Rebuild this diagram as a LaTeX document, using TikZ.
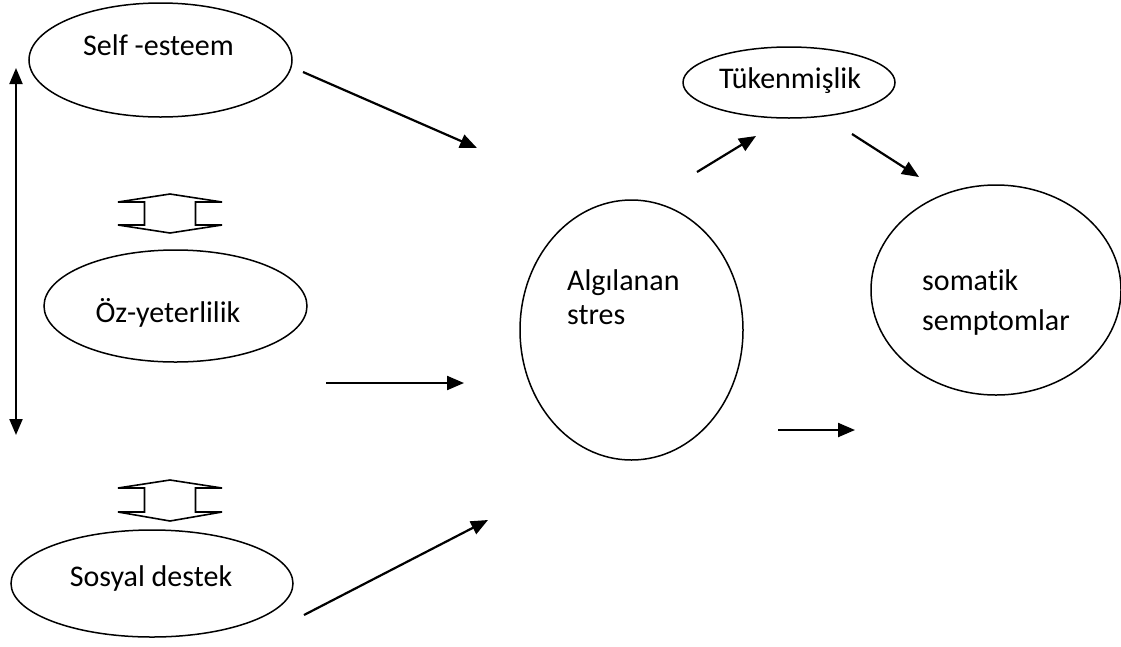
\documentclass[tikz,border=0pt]{standalone}
\usepackage{fontspec}
\setmainfont{Carlito}[Ligatures=NoCommon]
\usetikzlibrary{arrows.meta,shapes.geometric}
\begin{document}
\begin{tikzpicture}[x=1pt,y=-1pt,
  oval/.style={draw,ellipse,line width=1.5pt,inner sep=0pt},
  lbl/.style={font=\fontsize{30}{36}\selectfont,inner sep=0pt},
  conn/.style={line width=2.2pt,-{Triangle[length=17pt,width=14pt]}},
  hollow/.style={draw,line width=1.6pt,line join=miter}]
\useasboundingbox (0,0) rectangle (1121,646);
% ellipses
\node[oval,minimum width=263pt,minimum height=114pt] (self) at (160.5,60) {};
\node[oval,minimum width=263pt,minimum height=112pt] (oz) at (175.5,306) {};
\node[oval,minimum width=282pt,minimum height=107pt] (sos) at (152,583.5) {};
\node[oval,minimum width=212pt,minimum height=71pt] (tuk) at (789,82.5) {};
\node[oval,minimum width=223pt,minimum height=260pt] (alg) at (631.5,330) {};
\node[oval,minimum width=250pt,minimum height=210pt] (som) at (996,290) {};
% labels
\node[lbl,anchor=base west] (tself) at (83,55) {Self -esteem};
\node[lbl,anchor=base] (toz) at (168,322) {Öz-yeterlilik};
\node[lbl,anchor=base] (tsos) at (151,586) {Sosyal destek};
\node[lbl,anchor=base] (ttuk) at (790,88) {Tükenmişlik};
\node[lbl,anchor=base west] (talg1) at (567,290) {Algılanan};
\node[lbl,anchor=base west] (talg2) at (567,324) {stres};
\node[lbl,anchor=base west] (tsom1) at (922,290) {somatik};
\node[lbl,anchor=base west] (tsom2) at (922,330) {semptomlar};
% arrow end points
\coordinate (a1s) at (303,72);  \coordinate (a1e) at (477,148);
\coordinate (a2s) at (326,383); \coordinate (a2e) at (464,383);
\coordinate (a3s) at (304,615); \coordinate (a3e) at (488,520);
\coordinate (a4s) at (697,172); \coordinate (a4e) at (756,136);
\coordinate (a5s) at (852,134); \coordinate (a5e) at (919,177);
\coordinate (a6s) at (778,430); \coordinate (a6e) at (855,430);
\coordinate (vtop) at (16,68);  \coordinate (vbot) at (16,435);
\draw[conn] (a1s) -- (a1e);
\draw[conn] (a2s) -- (a2e);
\draw[conn] (a3s) -- (a3e);
\draw[conn] (a4s) -- (a4e);
\draw[conn] (a5s) -- (a5e);
\draw[conn] (a6s) -- (a6e);
\draw[line width=2pt,{Triangle[length=16pt,width=13pt]}-{Triangle[length=16pt,width=13pt]}] (vtop) -- (vbot);
% hollow up-down arrows
\coordinate (h1) at (170,213.5);
\coordinate (h2) at (170,500.5);
\draw[hollow,shift={(h1)}] (0,-19.5) -- (52,-11.5) -- (25.5,-11.5) -- (25.5,11.5) -- (52,11.5) -- (0,19.5) -- (-52,11.5) -- (-25.5,11.5) -- (-25.5,-11.5) -- (-52,-11.5) -- cycle;
\draw[hollow,shift={(h2)}] (0,-20.5) -- (52,-12.5) -- (25.5,-12.5) -- (25.5,11.5) -- (52,11.5) -- (0,20.5) -- (-52,11.5) -- (-25.5,11.5) -- (-25.5,-12.5) -- (-52,-12.5) -- cycle;
\end{tikzpicture}
\end{document}
